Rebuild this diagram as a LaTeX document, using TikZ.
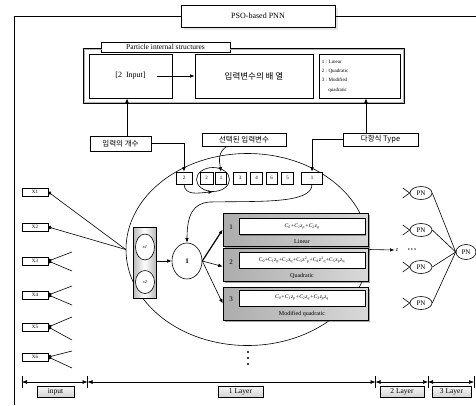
\documentclass[tikz,border=0pt]{standalone}
\usepackage{fontspec}
\setmainfont{Liberation Serif}
\newfontfamily\kr{Noto Sans CJK KR}
\usetikzlibrary{arrows.meta,shapes.geometric,shadows}
\begin{document}
\begin{tikzpicture}[x=1pt,y=-1pt,
  line width=0.6pt,
  bx/.style={draw, inner sep=0pt, minimum width=#1},
  bx/.default=20,
  arr/.style={-{Latex[length=4.5pt,width=3.5pt]}},
  dim/.style={{Latex[length=5pt,width=4pt]}-{Latex[length=5pt,width=4pt]}},
  cell/.style={draw, inner sep=0pt, minimum height=12, font=\fontsize{5}{6}\selectfont},
  xin/.style={draw, inner sep=0pt, minimum width=26, minimum height=8, font=\fontsize{5}{6}\selectfont},
  pn/.style={draw, ellipse, fill=white, inner sep=0pt, minimum width=22, minimum height=13, font=\fontsize{7}{8}\selectfont},
  fbox/.style={draw, inner sep=0pt, minimum width=145, minimum height=33, left color=gray!65, right color=gray!30, drop shadow={shadow xshift=1.5pt, shadow yshift=-1.5pt, fill=black!70}},
  wbox/.style={draw, fill=white, inner sep=0pt, minimum width=126, minimum height=16, font=\fontsize{5.5}{6.5}\selectfont, drop shadow={shadow xshift=1pt, shadow yshift=-1pt, fill=black!70}},
  lay/.style={draw, inner sep=0pt, minimum height=11, top color=gray!8, bottom color=gray!35, font=\fontsize{7.5}{8}\selectfont},
  krl/.style={draw, fill=white, inner sep=0pt, font=\kr\fontsize{7.5}{8}\selectfont},
  vdot/.style={circle, fill, inner sep=0pt, minimum size=2.3pt}
]
\useasboundingbox (0,0) rectangle (476,405);

% outer frame
\node[bx, minimum width=154, minimum height=22, fill=white, font=\fontsize{8}{9}\selectfont,
      drop shadow={shadow xshift=3pt, shadow yshift=-3pt, opacity=0.2}] (pso) at (258,16) {PSO-based PNN};
\coordinate (ftl) at (14,16);
\coordinate (fbl) at (14,405);
\coordinate (ftr) at (476,16);
\draw (pso.west) -- (ftl) -- (fbl);
\draw (pso.east) -- (ftr);

% particle internal structures
\node[bx, minimum width=129, minimum height=10, font=\fontsize{7.5}{8}\selectfont] (pis) at (165.5,47) {Particle internal structures};
\coordinate (g1) at (83,48);
\coordinate (g2) at (83,103);
\coordinate (g3) at (404,103);
\coordinate (g4) at (404,48);
\draw[gray!60, line width=1pt] ([shift={(1,1)}]pis.west |- g1) -- ([shift={(1,1)}]g1) -- ([shift={(1,-1)}]g2) -- ([shift={(-1,-1)}]g3) -- ([shift={(-1,1)}]g4) -- ([shift={(0,1)}]pis.east |- g4);
\draw (pis.west |- g1) -- (g1) -- (g2) -- (g3) -- (g4) -- (pis.east |- g4);

\node[bx, minimum width=83, minimum height=44, font=\fontsize{8}{9}\selectfont] (inp) at (130.5,76) {[2\ \ Input]};
\node[bx, minimum width=118, minimum height=44, font=\kr\fontsize{8.5}{9}\selectfont] (arrn) at (254,76) {입력변수의 배 열};
\node[bx, minimum width=81, minimum height=44] (typ) at (360,76) {};
\node[anchor=north west, inner sep=0pt, align=left, font=\fontsize{5}{9.3}\selectfont] (tlist) at (321.5,59.5)
  {1 : Linear\\2 : Quadratic\\3 : Modified\\\hspace*{6.5pt}quadratic};
\draw[arr] ([xshift=-15]inp.east) -- (arrn.west);

% korean labels
\node[krl, minimum width=61, minimum height=15] (nin) at (120.5,143.5) {입력의 개수};
\node[krl, minimum width=84, minimum height=13] (sel) at (244,139.5) {선택된 입력변수};
\node[krl, minimum width=75, minimum height=13] (ptype) at (380.5,139.5) {다항식 Type};
\coordinate (ax1) at (127,0);
\coordinate (ax2) at (366,0);
\draw[arr] (ax1 |- nin.north) -- (ax1 |- inp.south);
\draw[arr] (ax2 |- ptype.north) -- (ax2 |- typ.south);

% big ellipse
\node[draw, ellipse, inner sep=0pt, minimum width=243, minimum height=192] (big) at (247.5,249.5) {};

% row of cells
\node[cell, minimum width=16, fill=white] (b1) at (184,178) {2};
\node[cell, minimum width=13, fill=white] (b2) at (206.5,178) {2};
\node[cell, minimum width=11, fill=white] (b3) at (221,178) {1};
\node[cell, minimum width=13] (b4) at (240,178) {3};
\node[cell, minimum width=12] (b5) at (256.5,178) {4};
\node[cell, minimum width=11] (b6) at (271.5,178) {6};
\node[cell, minimum width=12] (b7) at (287.5,178) {5};
\node[cell, minimum width=21, fill=white] (b8) at (312,178) {1};
\node[draw, ellipse, inner sep=0pt, minimum width=33, minimum height=24] (sel2) at (213,179.5) {};

\draw[arr] (nin.east) -| (b1.north);
\draw[arr] (ptype.west) -| (b8.north);
\draw[arr] ([xshift=-17]sel.south) .. controls (218,152) and (219,160) .. (b3.north);
\draw[arr] (b1.south) .. controls (185,196) and (198,193) .. (sel2.south);

% inputs
\foreach \i/\y in {1/192,2/227,3/261,4/295,5/327,6/357}{
  \node[xin] (x\i) at (35,\y) {X\i};
}
\draw[{Circle[length=3.5pt]}-] (x1.east) -- (big.west);
\draw[{Circle[length=3.5pt]}-] (x2.east) -- (big.west);
\foreach \i/\a/\b in {3/252/271,4/286/305,5/317/340,6/351/368}{
  \coordinate (u\i) at (72,\a);
  \coordinate (d\i) at (72,\b);
  \draw[{Circle[length=3.5pt]}-] (x\i.east) -- (u\i);
  \draw[{Circle[length=3.5pt]}-] (x\i.east) -- (d\i);
}

% x1 x2 block
\node[draw, inner sep=0pt, minimum width=23, minimum height=71, left color=gray!55, right color=gray!55, middle color=white] (xr) at (144.5,262.5) {};
\node[draw, ellipse, fill=white, inner sep=0pt, minimum width=19, minimum height=26, font=\itshape\fontsize{4.5}{5}\selectfont] (cx1) at (145,247) {x1};
\node[draw, ellipse, fill=white, inner sep=0pt, minimum width=19, minimum height=23, font=\itshape\fontsize{4.5}{5}\selectfont] (cx2) at (145,282) {x2};

\node[draw, ellipse, fill=white, inner sep=0pt, minimum width=30, minimum height=36, font=\bfseries\fontsize{7}{8}\selectfont] (c1) at (187,261) {1};
\draw[arr] (xr.east |- c1.west) -- (c1.west);
\draw[arr] (b8.south) .. controls (312,204) and (260,201) .. (210,202) .. controls (193,203) and (187,215) .. (c1.north);

% formula boxes
\node[fbox] (f1) at (295.5,229.5) {};
\node[fbox] (f2) at (295.5,264.5) {};
\node[fbox] (f3) at (295.5,303.5) {};
\node[wbox] (w1) at (302,226.5) {\itshape C\textsubscript{0}+C\textsubscript{1}z\textsubscript{p}+C\textsubscript{2}z\textsubscript{q}};
\node[wbox] (w2) at (302,260) {C\textsubscript{0}+C\textsubscript{1}z\textsubscript{p}+C\textsubscript{2}z\textsubscript{q}+C\textsubscript{3}z\textsuperscript{2}\textsubscript{p}+C\textsubscript{4}z\textsuperscript{2}\textsubscript{q}+C\textsubscript{5}z\textsubscript{p}z\textsubscript{q}};
\node[wbox] (w3) at (302,298) {\itshape C\textsubscript{0}+C\textsubscript{1}z\textsubscript{p}+C\textsubscript{2}z\textsubscript{q}+C\textsubscript{3}z\textsubscript{p}z\textsubscript{q}};
\node[font=\fontsize{7}{8}\selectfont, inner sep=0pt] (n1) at (231,227) {1};
\node[font=\fontsize{7}{8}\selectfont, inner sep=0pt] (n2) at (231,262) {2};
\node[font=\fontsize{7}{8}\selectfont, inner sep=0pt] (n3) at (231,299) {3};
\node[font=\fontsize{6}{7}\selectfont, inner sep=0pt] (l1) at (302,242) {Linear};
\node[font=\fontsize{6}{7}\selectfont, inner sep=0pt] (l2) at (302,275.5) {Quadratic};
\node[font=\fontsize{6}{7}\selectfont, inner sep=0pt] (l3) at (302,314) {Modified quadratic};

\draw[arr, line width=1.2pt] (c1.east) -- (f1.west);
\draw[arr] (c1.east) -- ([yshift=-2]f2.west);
\draw[arr] (c1.east) -- (f3.west);

% vertical dots
\node[vdot] (vd1) at (248,352) {};
\node[vdot] (vd2) at (248,358) {};
\node[vdot] (vd3) at (248,364) {};

% output z
\node[inner sep=1pt, font=\itshape\fontsize{6}{7}\selectfont] (zz) at (397,250) {z};
\node[inner sep=0pt, font=\fontsize{6}{7}\selectfont] (dots) at (412,250.5) {\textbullet\,\textbullet\,\textbullet};
\draw[arr] (big.east) -- (zz.west);

% PN nodes
\foreach \i/\y in {1/193,2/230,3/267,4/303}{
  \node[pn] (p\i) at (421,\y) {PN};
  \draw ([shift={(-7,-5)}]p\i.west) -- (p\i.west) -- ([shift={(-7,5)}]p\i.west);
}
\node[pn, minimum width=20, minimum height=15] (pf) at (466,252) {PN};
\foreach \i in {1,...,4}{ \draw (p\i.east) -- (pf.west); }

% bottom dimension line
\coordinate (t0) at (22,382);
\coordinate (t1) at (87.5,382);
\coordinate (t2) at (375.5,382);
\coordinate (t3) at (428,382);
\coordinate (t4) at (474,382);
\draw[dim] (t0) -- (t1);
\draw[dim] (t1) -- (t2);
\draw[dim] (t2) -- (t3);
\draw[dim] (t3) -- (t4);
\foreach \t in {t0,t1,t2,t3,t4}{ \draw ([yshift=6]\t) -- ([yshift=-6]\t); }
\node[lay, minimum width=37] (Lin) at (55.5,392) {input};
\node[lay, minimum width=45] (L1) at (240.5,392) {1 Layer};
\node[lay, minimum width=44] (L2) at (402,392) {2 Layer};
\node[lay, minimum width=39] (L3) at (451.5,392) {3 Layer};
\end{tikzpicture}
\end{document}
